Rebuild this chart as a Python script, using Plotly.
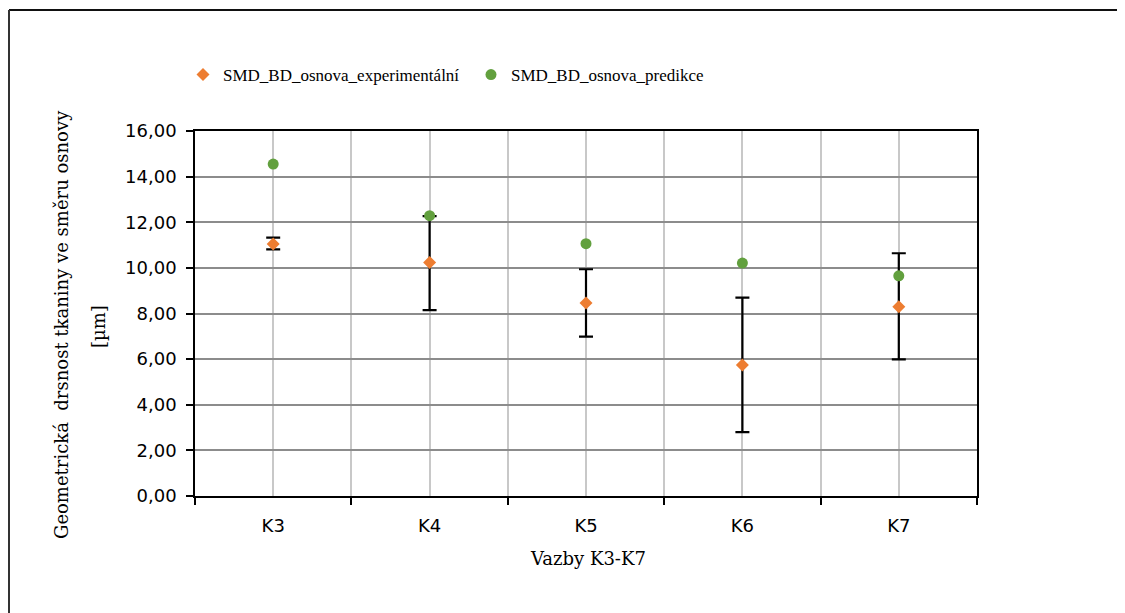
import plotly.graph_objects as go

categories = ["K3", "K4", "K5", "K6", "K7"]
experimental = [11.05, 10.24, 8.46, 5.74, 8.30]
err_plus = [0.28, 2.03, 1.48, 2.96, 2.34]
err_minus = [0.24, 2.09, 1.47, 2.94, 2.31]
predicted = [14.55, 12.29, 11.06, 10.21, 9.65]

name_exp = "SMD_BD_osnova_experimentální"
name_pred = "SMD_BD_osnova_predikce"
y_title_1 = "Geometrická  drsnost tkaniny ve směru osnovy"
y_title_2 = "[µm]"
x_title = "Vazby K3-K7"

xpos = list(range(len(categories)))

# page body offset of the browser (default 8px margin)
OFF = 8
# plot area in screenshot pixels
L, R, T, B = 195, 977, 131, 496
W, H = 1125, 613
def px(x):
    return (x - L) / (R - L)
def py(y):
    return (B - y) / (B - T)

fig = go.Figure()
fig.add_trace(go.Scatter(
    x=xpos, y=experimental, mode="markers", name=name_exp,
    marker=dict(symbol="diamond", size=10, color="#ED7D31"),
    error_y=dict(type="data", array=err_plus, arrayminus=err_minus,
                 color="black", thickness=2.2, width=7),
))
fig.add_trace(go.Scatter(
    x=xpos, y=predicted, mode="markers", name=name_pred,
    marker=dict(symbol="circle", size=11, color="#62A03E"),
))

serif = "DejaVu Serif"
sans = "DejaVu Sans"

fig.update_layout(
    width=W, height=H,
    margin=dict(l=L - OFF, r=W - R + OFF, t=T - OFF, b=H - B + OFF, autoexpand=False),
    paper_bgcolor="white", plot_bgcolor="white",
    separators=", ",
    showlegend=True,
    legend=dict(orientation="h", x=px(183), y=py(75), xanchor="left", yanchor="middle",
                font=dict(family="Liberation Serif", size=17, color="black"),
                entrywidth=243, entrywidthmode="pixels",
                itemclick=False, itemdoubleclick=False),
    xaxis=dict(
        range=[-0.5, len(categories) - 0.5],
        tickvals=xpos, ticktext=categories, ticks="",
        showgrid=True, gridcolor="#C8C8C8", gridwidth=1.5,
        showline=True, linecolor="black", linewidth=1.5, mirror=True,
        tickfont=dict(family=sans, size=18, color="black"),
        ticklabelstandoff=13,
        minor=dict(tickvals=[i - 0.5 for i in range(len(categories) + 1)],
                   ticks="outside", ticklen=7, tickcolor="black", tickwidth=1.5,
                   showgrid=True, gridcolor="#C8C8C8", gridwidth=1.5),
        zeroline=False, fixedrange=True,
    ),
    yaxis=dict(
        range=[0, 16], dtick=2, tickformat=".2f",
        ticks="outside", ticklen=7, tickcolor="black", tickwidth=1.5,
        showgrid=True, gridcolor="#8C8C8C", gridwidth=1.5,
        showline=True, linecolor="black", linewidth=1.5, mirror=True,
        tickfont=dict(family=sans, size=18, color="black"),
        ticklabelstandoff=6,
        zeroline=False, fixedrange=True,
    ),
    annotations=[
        dict(text=y_title_1, xref="paper", yref="paper", x=px(61), y=py(325),
             textangle=-90, showarrow=False, xanchor="center", yanchor="middle",
             font=dict(family=serif, size=18, color="black")),
        dict(text=y_title_2, xref="paper", yref="paper", x=px(98), y=py(327),
             textangle=-90, showarrow=False, xanchor="center", yanchor="middle",
             font=dict(family=serif, size=18, color="black")),
        dict(text=x_title, xref="paper", yref="paper", x=px(588), y=py(558),
             showarrow=False, xanchor="center", yanchor="middle",
             font=dict(family=serif, size=18, color="black")),
    ],
    shapes=[
        dict(type="line", xref="paper", yref="paper", x0=px(9), x1=px(1140),
             y0=py(10), y1=py(10), line=dict(color="#111", width=2)),
        dict(type="line", xref="paper", yref="paper", x0=px(9), x1=px(9),
             y0=py(10), y1=py(630), line=dict(color="#333", width=2)),
    ],
)

fig.write_html("out.html")
